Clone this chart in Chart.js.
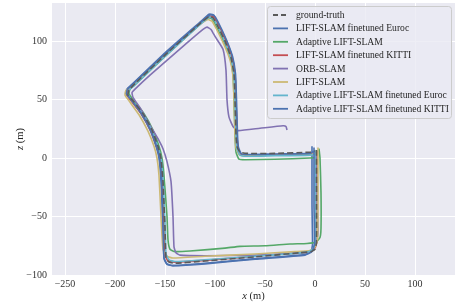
<!DOCTYPE html>
<html>
<head>
<meta charset="utf-8">
<script src="https://cdn.jsdelivr.net/npm/chart.js@4.4.1/dist/chart.umd.min.js"></script>
<style>
  html, body { margin: 0; padding: 0; background: #fff; }
</style>
</head>
<body>
<canvas id="trajectory" width="461" height="305"></canvas>
<script>
// trajectories, [x, z] in metres
const groundTruth = [[1.5,7],[1.5,-40],[1.5,-72],[0,-78],[-4,-80],[-15,-81],[-60,-84.5],[-110,-88],[-140,-90],[-146,-89],[-149,-85],[-150,-60],[-152,-20],[-154,0],[-157,10],[-163,24],[-172,38],[-182,49],[-187,54],[-186,58],[-182,62],[-150,88],[-115,115],[-106,121],[-102,120],[-98,114],[-90,100],[-84,86],[-81,72],[-80,50],[-79,20],[-78,10],[-75,5],[-68,4],[-40,4],[-5,5],[0,6]];
const liftEuroc = [[-3,10],[-3,-40],[-2.5,-74],[-4,-80],[-10,-82.5],[-60,-86],[-110,-90],[-142,-92],[-148,-91],[-151,-86],[-152,-60],[-154,-20],[-156,0],[-159,10],[-165,24],[-174,38],[-184,50],[-189,55],[-188,59],[-183,63],[-150,90],[-114,117],[-106,123],[-102,122.5],[-98,117],[-89,101],[-83,87],[-80,72],[-79,50],[-78,20],[-77,9],[-74,3],[-67,2],[-40,2.5],[-5,3],[-2,5]];
const adaptiveLift = [[4,8],[5,0],[6,-30],[6,-60],[5,-68],[1,-72],[-8,-73],[-25,-73.5],[-50,-75],[-75,-75.5],[-90,-77],[-125,-79.5],[-140,-80],[-145,-78],[-147,-70],[-148,-50],[-151,-15],[-153,0],[-156,10],[-162,24],[-171,38],[-182,50],[-186,55],[-185,59],[-181,62],[-150,87],[-113,116],[-107,120],[-103,119],[-99,113],[-91,99],[-85,86],[-82,72],[-81,50],[-80,20],[-79,5],[-76,-1],[-70,-1.5],[-40,-1],[-5,0],[3,1]];
const liftKitti = [[2,6],[2,-40],[2,-71],[0,-77],[-5,-80],[-18,-81],[-60,-84],[-110,-87.5],[-141,-89],[-147,-88],[-150,-83],[-151,-58],[-153,-19],[-155,0],[-158,9],[-164,23],[-173,37],[-184,49],[-188,54],[-187,58],[-183,62],[-150,88],[-113,116],[-105,121.5],[-101,120.5],[-97,115],[-89,100],[-83,86],[-80,72],[-79,50],[-78,20],[-77,8],[-74,3],[-67,2.5],[-40,3],[-5,3.5],[1,5]];
const orbSlam = [[1,4],[2,-30],[3,-64],[1,-74],[-3,-79],[-10,-81],[-60,-83],[-110,-83.5],[-135,-83],[-139,-81],[-141,-76],[-142,-50],[-144,-20],[-148,-3],[-152,8],[-156,15],[-165,28],[-175,43],[-182,52],[-183,56],[-180,59],[-165,71],[-130,97],[-112,110],[-108,112],[-104,110],[-100,104],[-92,93],[-89,75],[-88,50],[-86,35],[-82,27],[-77,23.5],[-55,25.5],[-32,27.6],[-29,27],[-28,24]];
const lift = [[3,9],[3,-10],[3,-40],[2.5,-70],[0,-76],[-5,-79],[-20,-80],[-60,-82],[-110,-84],[-142,-85.5],[-148,-84],[-152,-78],[-154,-50],[-156,-15],[-158,0],[-161,10],[-167,23],[-176,37],[-186,49],[-190,54],[-189,58],[-184,61],[-150,88],[-114,115],[-107,118.5],[-103,117],[-99,111],[-91,97],[-85,84],[-82,70],[-81,50],[-80,20],[-79,9],[-76,3],[-69,2],[-40,2.5],[-5,3],[1,4]];
const adaptiveEuroc = [[0,7],[0.5,-40],[0.5,-71],[-1.5,-77],[-6,-80],[-20,-81.5],[-60,-84],[-110,-87],[-140,-88.5],[-146,-87],[-149,-82],[-150,-55],[-152,-18],[-154,0],[-157,9],[-163,23],[-172,37],[-183,49],[-187,54],[-186,58],[-182,61],[-150,87],[-114,115],[-106,120.5],[-102,119.5],[-98,114],[-90,99],[-84,85],[-81,71],[-80,50],[-79,20],[-78,8],[-75,2.5],[-68,1.5],[-40,2],[-5,2.5],[0,3.5]];
const adaptiveKitti = [[-1,9],[-1,-40],[-0.5,-73],[-3,-80],[-10,-83],[-60,-86.5],[-110,-90.5],[-142,-92],[-148,-90.5],[-151,-85],[-152,-58],[-153.5,-18],[-155.5,0],[-158.5,10],[-164.5,24],[-173.5,38],[-184,50],[-188.5,55],[-187.5,59],[-182.5,63],[-150,89],[-113,117],[-105,122.5],[-101,122],[-97,116.5],[-88.5,101],[-82.5,87],[-79.5,72],[-78.5,50],[-77.5,20],[-76.5,9],[-73.5,3.5],[-67,3],[-40,3.5],[-5,4],[-1,6]];

const seriesLabels = ['ground-truth', 'LIFT-SLAM finetuned Euroc', 'Adaptive LIFT-SLAM', 'LIFT-SLAM finetuned KITTI',
  'ORB-SLAM', 'LIFT-SLAM', 'Adaptive LIFT-SLAM finetuned Euroc', 'Adaptive LIFT-SLAM finetuned KITTI'];
const seriesData = [groundTruth, liftEuroc, adaptiveLift, liftKitti, orbSlam, lift, adaptiveEuroc, adaptiveKitti];
const seriesColors = ['#5a5a5a', '#4C72B0', '#55A868', '#C44E52', '#8172B2', '#CCB974', '#64B5CD', '#4C72B0'];

const xTicks = [-250, -200, -150, -100, -50, 0, 50, 100];
const yTicks = [-100, -50, 0, 50, 100];

const FONT = '"Liberation Serif", "Times New Roman", serif';
const fmt = (v) => (v < 0 ? '\u2212' + Math.abs(v) : String(v));

const datasets = seriesData.map((pts, i) => ({
  label: seriesLabels[i],
  data: pts.map(([x, y]) => ({ x, y })),
  showLine: true,
  borderColor: seriesColors[i],
  backgroundColor: seriesColors[i],
  borderWidth: 1.6,
  borderDash: i === 0 ? [6, 3] : [],
  pointRadius: 0,
  tension: 0.15,
  order: i === 0 ? 0 : 8 - i,
}));

// axes background + legend box + axis titles
const decorations = {
  id: 'decorations',
  beforeDraw(chart) {
    const { ctx, chartArea: a } = chart;
    ctx.save();
    ctx.fillStyle = '#EAEAF2';
    ctx.fillRect(a.left, a.top, a.right - a.left, a.bottom - a.top);
    ctx.restore();
  },
  afterDraw(chart) {
    const { ctx, chartArea: a } = chart;
    ctx.save();

    // legend
    const bx = 267, by = 6, bw = 184, bh = 112;
    ctx.beginPath();
    ctx.roundRect(bx + 0.5, by + 0.5, bw, bh, 3);
    ctx.fillStyle = 'rgba(234,234,242,0.8)';
    ctx.fill();
    ctx.strokeStyle = '#cccccc';
    ctx.lineWidth = 1;
    ctx.stroke();

    ctx.font = '9.6px ' + FONT;
    ctx.textBaseline = 'middle';
    ctx.textAlign = 'left';
    chart.data.datasets.forEach((ds, i) => {
      const y = 15 + i * 13.4;
      ctx.beginPath();
      ctx.setLineDash(ds.borderDash.length ? [5, 3] : []);
      ctx.strokeStyle = ds.borderColor;
      ctx.lineWidth = 1.8;
      ctx.moveTo(273, y);
      ctx.lineTo(288, y);
      ctx.stroke();
      ctx.setLineDash([]);
      ctx.fillStyle = '#262626';
      ctx.fillText(ds.label, 296, y + 0.5);
    });

    // axis titles: italic symbol + regular unit
    const drawTitle = (sym, cx, cy, rot) => {
      ctx.save();
      ctx.translate(cx, cy);
      ctx.rotate(rot);
      ctx.fillStyle = '#262626';
      ctx.textBaseline = 'middle';
      ctx.textAlign = 'left';
      ctx.font = 'italic 10.5px ' + FONT;
      const w1 = ctx.measureText(sym).width;
      ctx.font = '10.5px ' + FONT;
      const rest = ' (m)';
      const w2 = ctx.measureText(rest).width;
      const x0 = -(w1 + w2) / 2;
      ctx.font = 'italic 10.5px ' + FONT;
      ctx.fillText(sym, x0, 0);
      ctx.font = '10.5px ' + FONT;
      ctx.fillText(rest, x0 + w1, 0);
      ctx.restore();
    };
    drawTitle('x', (a.left + a.right) / 2, 296, 0);
    drawTitle('z', 20, (a.top + a.bottom) / 2, -Math.PI / 2);

    ctx.restore();
  },
};

new Chart(document.getElementById('trajectory'), {
  type: 'scatter',
  data: { datasets },
  options: {
    responsive: false,
    animation: false,
    devicePixelRatio: 1,
    layout: { padding: { left: 0, right: 6, top: 3, bottom: 0 } },
    plugins: { legend: { display: false }, tooltip: { enabled: false } },
    scales: {
      x: {
        type: 'linear',
        min: -263,
        max: 140,
        afterBuildTicks: (scale) => { scale.ticks = xTicks.map((v) => ({ value: v })); },
        afterFit: (scale) => { scale.height = 30; scale.paddingLeft = 0; scale.paddingRight = 0; },
        grid: { color: '#ffffff', lineWidth: 1, drawTicks: false },
        border: { display: false },
        ticks: {
          color: '#333333',
          font: { family: FONT, size: 10 },
          padding: 3,
          maxRotation: 0,
          callback: (v) => fmt(v),
        },
      },
      y: {
        type: 'linear',
        min: -100,
        max: 132.6,
        afterBuildTicks: (scale) => { scale.ticks = yTicks.map((v) => ({ value: v })); },
        afterFit: (scale) => { scale.width = 52; scale.paddingTop = 0; scale.paddingBottom = 0; },
        grid: { color: '#ffffff', lineWidth: 1, drawTicks: false },
        border: { display: false },
        ticks: {
          color: '#333333',
          font: { family: FONT, size: 10 },
          padding: 5,
          callback: (v) => fmt(v),
        },
      },
    },
  },
  plugins: [decorations],
});
</script>
</body>
</html>
